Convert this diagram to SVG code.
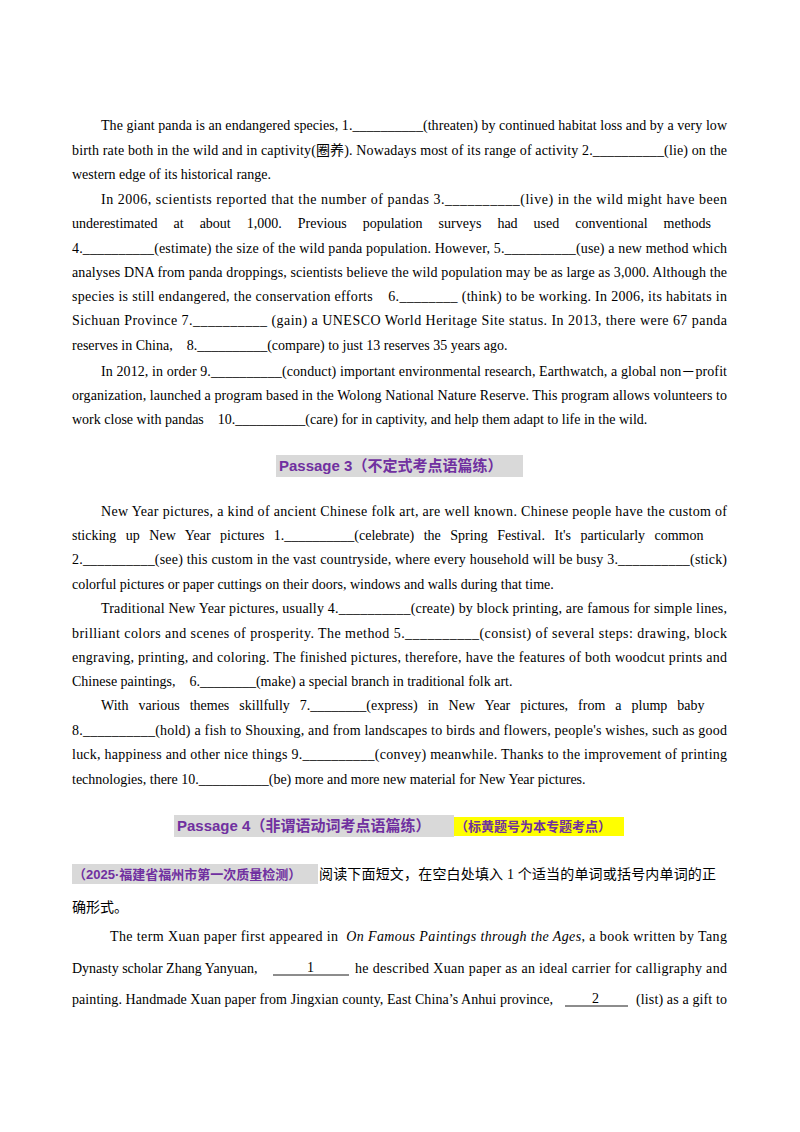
<svg xmlns="http://www.w3.org/2000/svg" width="800" height="1132" viewBox="0 0 800 1132">
<style>
.t{font-family:"Liberation Serif","Noto Sans CJK SC",serif;font-size:14px;fill:#000;white-space:pre}
.h{font-family:"Liberation Sans","Noto Sans CJK SC",sans-serif;font-size:15px;font-weight:bold;fill:#7030A0}
.hs{font-family:"Liberation Sans","Noto Sans CJK SC",sans-serif;font-size:13px;font-weight:bold;fill:#7030A0}
.c{font-family:"Liberation Serif","Noto Sans CJK SC",serif;font-size:14px;fill:#000}
</style>
<rect width="800" height="1132" fill="#fff"/>
<g id="passage2">
<text class="t" x="101" y="130" textLength="626" lengthAdjust="spacing">The giant panda is an endangered species, 1.__________(threaten) by continued habitat loss and by a very low</text>
<text class="t" x="72" y="155" textLength="655" lengthAdjust="spacing">birth rate both in the wild and in captivity(圈养). Nowadays most of its range of activity 2.__________(lie) on the</text>
<text class="t" x="72" y="179">western edge of its historical range.</text>
<text class="t" x="101" y="204" textLength="626" lengthAdjust="spacing">In 2006, scientists reported that the number of pandas 3.__________(live) in the wild might have been</text>
<text class="t" x="72" y="228" word-spacing="12.5">underestimated at about 1,000. Previous population surveys had used conventional methods</text>
<text class="t" x="72" y="253" textLength="655" lengthAdjust="spacing">4.__________(estimate) the size of the wild panda population. However, 5.__________(use) a new method which</text>
<text class="t" x="72" y="277" textLength="655" lengthAdjust="spacing">analyses DNA from panda droppings, scientists believe the wild population may be as large as 3,000. Although the</text>
<text class="t" x="72" y="301" textLength="655" lengthAdjust="spacing">species is still endangered, the conservation efforts    6.________ (think) to be working. In 2006, its habitats in</text>
<text class="t" x="72" y="325" textLength="655" lengthAdjust="spacing">Sichuan Province 7.__________ (gain) a UNESCO World Heritage Site status. In 2013, there were 67 panda</text>
<text class="t" x="72" y="350">reserves in China,    8.__________(compare) to just 13 reserves 35 years ago.</text>
<text class="t" x="101" y="376" textLength="626" lengthAdjust="spacing">In 2012, in order 9.__________(conduct) important environmental research, Earthwatch, a global non－profit</text>
<text class="t" x="72" y="400" textLength="655" lengthAdjust="spacing">organization, launched a program based in the Wolong National Nature Reserve. This program allows volunteers to</text>
<text class="t" x="72" y="424">work close with pandas    10.__________(care) for in captivity, and help them adapt to life in the wild.</text>
</g>
<g id="heading3">
<rect x="276" y="455" width="247" height="22" fill="#d9d9d9"/>
<text class="h" x="279" y="471">Passage 3（不定式考点语篇练）</text>
</g>
<g id="passage3">
<text class="t" x="101" y="516" textLength="626" lengthAdjust="spacing">New Year pictures, a kind of ancient Chinese folk art, are well known. Chinese people have the custom of</text>
<text class="t" x="72" y="540" word-spacing="6">sticking up New Year pictures 1.__________(celebrate) the Spring Festival. It's particularly common</text>
<text class="t" x="72" y="564" textLength="655" lengthAdjust="spacing">2.__________(see) this custom in the vast countryside, where every household will be busy 3.__________(stick)</text>
<text class="t" x="72" y="589">colorful pictures or paper cuttings on their doors, windows and walls during that time.</text>
<text class="t" x="101" y="613" textLength="626" lengthAdjust="spacing">Traditional New Year pictures, usually 4.__________(create) by block printing, are famous for simple lines,</text>
<text class="t" x="72" y="638" textLength="655" lengthAdjust="spacing">brilliant colors and scenes of prosperity. The method 5.__________(consist) of several steps: drawing, block</text>
<text class="t" x="72" y="662" textLength="655" lengthAdjust="spacing">engraving, printing, and coloring. The finished pictures, therefore, have the features of both woodcut prints and</text>
<text class="t" x="72" y="686">Chinese paintings,    6.________(make) a special branch in traditional folk art.</text>
<text class="t" x="101" y="710" word-spacing="6.5">With various themes skillfully 7.________(express) in New Year pictures, from a plump baby</text>
<text class="t" x="72" y="735" textLength="655" lengthAdjust="spacing">8.__________(hold) a fish to Shouxing, and from landscapes to birds and flowers, people's wishes, such as good</text>
<text class="t" x="72" y="759" textLength="655" lengthAdjust="spacing">luck, happiness and other nice things 9.__________(convey) meanwhile. Thanks to the improvement of printing</text>
<text class="t" x="72" y="784">technologies, there 10.__________(be) more and more new material for New Year pictures.</text>
</g>
<g id="heading4">
<rect x="174" y="815" width="280" height="22" fill="#d9d9d9"/>
<text class="h" x="177" y="831">Passage 4（非谓语动词考点语篇练）</text>
<rect x="454" y="817" width="170" height="19" fill="#ffff00"/>
<text class="hs" x="455" y="831">（标黄题号为本专题考点）</text>
</g>
<g id="passage4">
<rect x="72" y="864" width="246" height="20" fill="#d9d9d9"/>
<text class="hs" x="73" y="879">（2025·福建省福州市第一次质量检测）</text>
<text class="c" x="319" y="879" textLength="397" lengthAdjust="spacing">阅读下面短文，在空白处填入 1 个适当的单词或括号内单词的正</text>
<text class="c" x="72" y="912">确形式。</text>
<text class="t" x="110" y="941" textLength="617" lengthAdjust="spacing">The term Xuan paper first appeared in  <tspan font-style="italic">On Famous Paintings through the Ages</tspan>, a book written by Tang</text>
<text class="t" x="72" y="973">Dynasty scholar Zhang Yanyuan,</text>
<line x1="273" y1="975" x2="349" y2="975" stroke="#000" stroke-width="0.9"/>
<text class="t" x="307" y="972">1</text>
<text class="t" x="355" y="973" textLength="372" lengthAdjust="spacing">he described Xuan paper as an ideal carrier for calligraphy and</text>
<text class="t" x="72" y="1004" textLength="481" lengthAdjust="spacing">painting. Handmade Xuan paper from Jingxian county, East China’s Anhui province,</text>
<line x1="565" y1="1006" x2="628" y2="1006" stroke="#000" stroke-width="0.9"/>
<text class="t" x="592" y="1003">2</text>
<text class="t" x="636" y="1004" textLength="91" lengthAdjust="spacing">(list) as a gift to</text>
</g>
</svg>
